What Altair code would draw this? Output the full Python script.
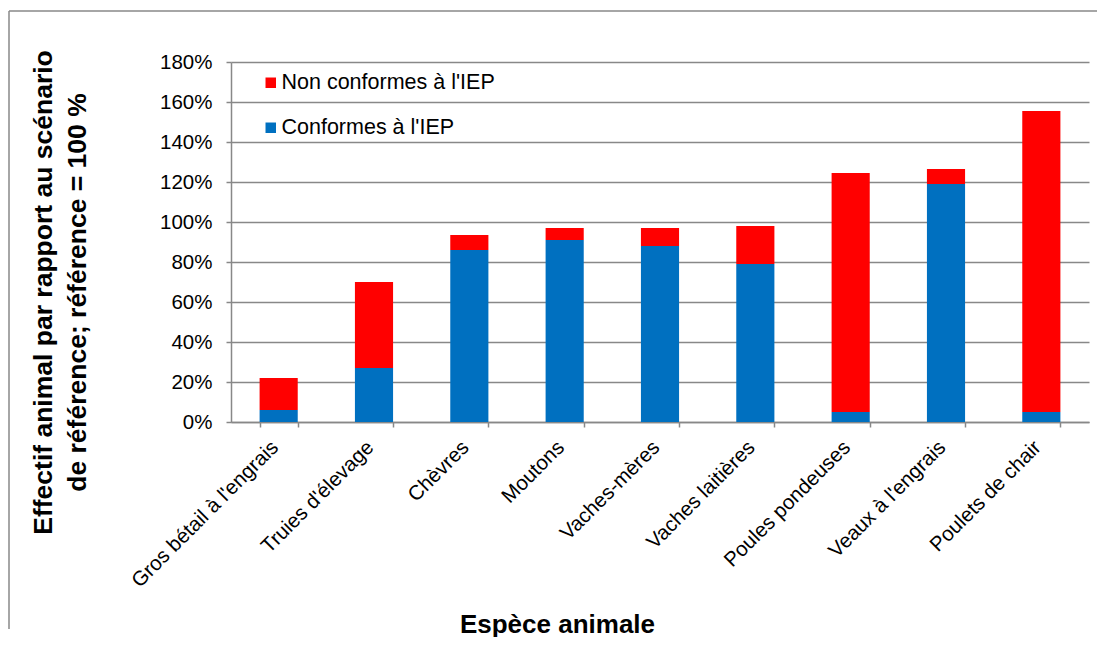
import altair as alt
import pandas as pd

categories = ["Gros bétail à l'engrais", "Truies d'élevage", "Chèvres", "Moutons",
              "Vaches-mères", "Vaches laitières", "Poules pondeuses",
              "Veaux à l'engrais", "Poulets de chair"]
conformes = [6, 27, 86, 91, 88, 79, 5, 119, 5]
non_conformes = [16, 43, 7.5, 6, 9, 19, 119.5, 7.5, 150.5]
series = ["Non conformes à l'IEP", "Conformes à l'IEP"]
colors = ["#FF0000", "#0070C0"]
y_ticks = [0, 20, 40, 60, 80, 100, 120, 140, 160, 180]

rows = []
for c, a, b in zip(categories, conformes, non_conformes):
    rows.append({"cat": c, "serie": series[1], "val": a, "ord": 0})
    rows.append({"cat": c, "serie": series[0], "val": b, "ord": 1})
df = pd.DataFrame(rows)

FONT = "Liberation Sans"
GRAY = "#888888"

bars = alt.Chart(df).mark_bar().encode(
    x=alt.X("cat:N", sort=categories,
            scale=alt.Scale(paddingInner=0.6, paddingOuter=0.3),
            axis=alt.Axis(title="Espèce animale", labelAngle=-45, labelAlign="right",
                          labelBaseline="middle", labelFontSize=20.5, labelPadding=17,
                          labelOffset=-4,
                          labelColor="black", labelFont=FONT, labelLimit=400,
                          tickBand="extent", tickSize=5, tickColor=GRAY, tickWidth=1.5,
                          domainColor=GRAY, domainWidth=1.5,
                          titleFontSize=26, titleFontWeight="bold", titleFont=FONT,
                          titleColor="black",
                          titleX=326, titleY=202, titleAlign="center",
                          titleBaseline="middle", titleAnchor="start")),
    y=alt.Y("val:Q", stack="zero",
            scale=alt.Scale(domain=[0, 180], nice=False),
            axis=alt.Axis(values=y_ticks, labelExpr="datum.value + '%'",
                          labelFontSize=20.5, labelFont=FONT, labelColor="black",
                          labelPadding=14,
                          tickSize=5, tickColor=GRAY, tickWidth=1.5,
                          domainColor=GRAY, domainWidth=1.5,
                          gridColor=GRAY, gridWidth=1.5,
                          title=["Effectif animal par rapport au scénario",
                                 "de référence; référence = 100 %"],
                          titleFontSize=26.5, titleFontWeight="bold", titleFont=FONT,
                          titleColor="black", titleLineHeight=34,
                          titleAngle=270, titleX=-188, titleY=230,
                          titleAlign="center", titleBaseline="middle",
                          titleAnchor="start")),
    color=alt.Color("serie:N", scale=alt.Scale(domain=series, range=colors),
                    legend=alt.Legend(title=None, orient="none", legendX=29, legendY=10,
                                      symbolType="square", symbolSize=110,
                                      symbolStrokeWidth=0, labelLimit=400,
                                      labelFontSize=21.5, labelFont=FONT,
                                      labelColor="black", labelOffset=0,
                                      rowPadding=22, padding=0)),
    order=alt.Order("ord:Q"),
)

frame = alt.Data(values=[{}])
top_line = alt.Chart(frame).mark_rule(color=GRAY, strokeWidth=1.5).encode(
    x=alt.value(-222), x2=alt.value(866), y=alt.value(-51))
left_line = alt.Chart(frame).mark_rule(color=GRAY, strokeWidth=1.5).encode(
    x=alt.value(-222), y=alt.value(-51), y2=alt.value(567))

chart = alt.layer(bars, top_line, left_line).properties(
    width=858, height=360,
    padding={"left": 0, "top": 2, "right": 0, "bottom": 0},
).configure_view(stroke="transparent")

chart.save("out.html", embed_options={"renderer": "svg", "actions": False})
